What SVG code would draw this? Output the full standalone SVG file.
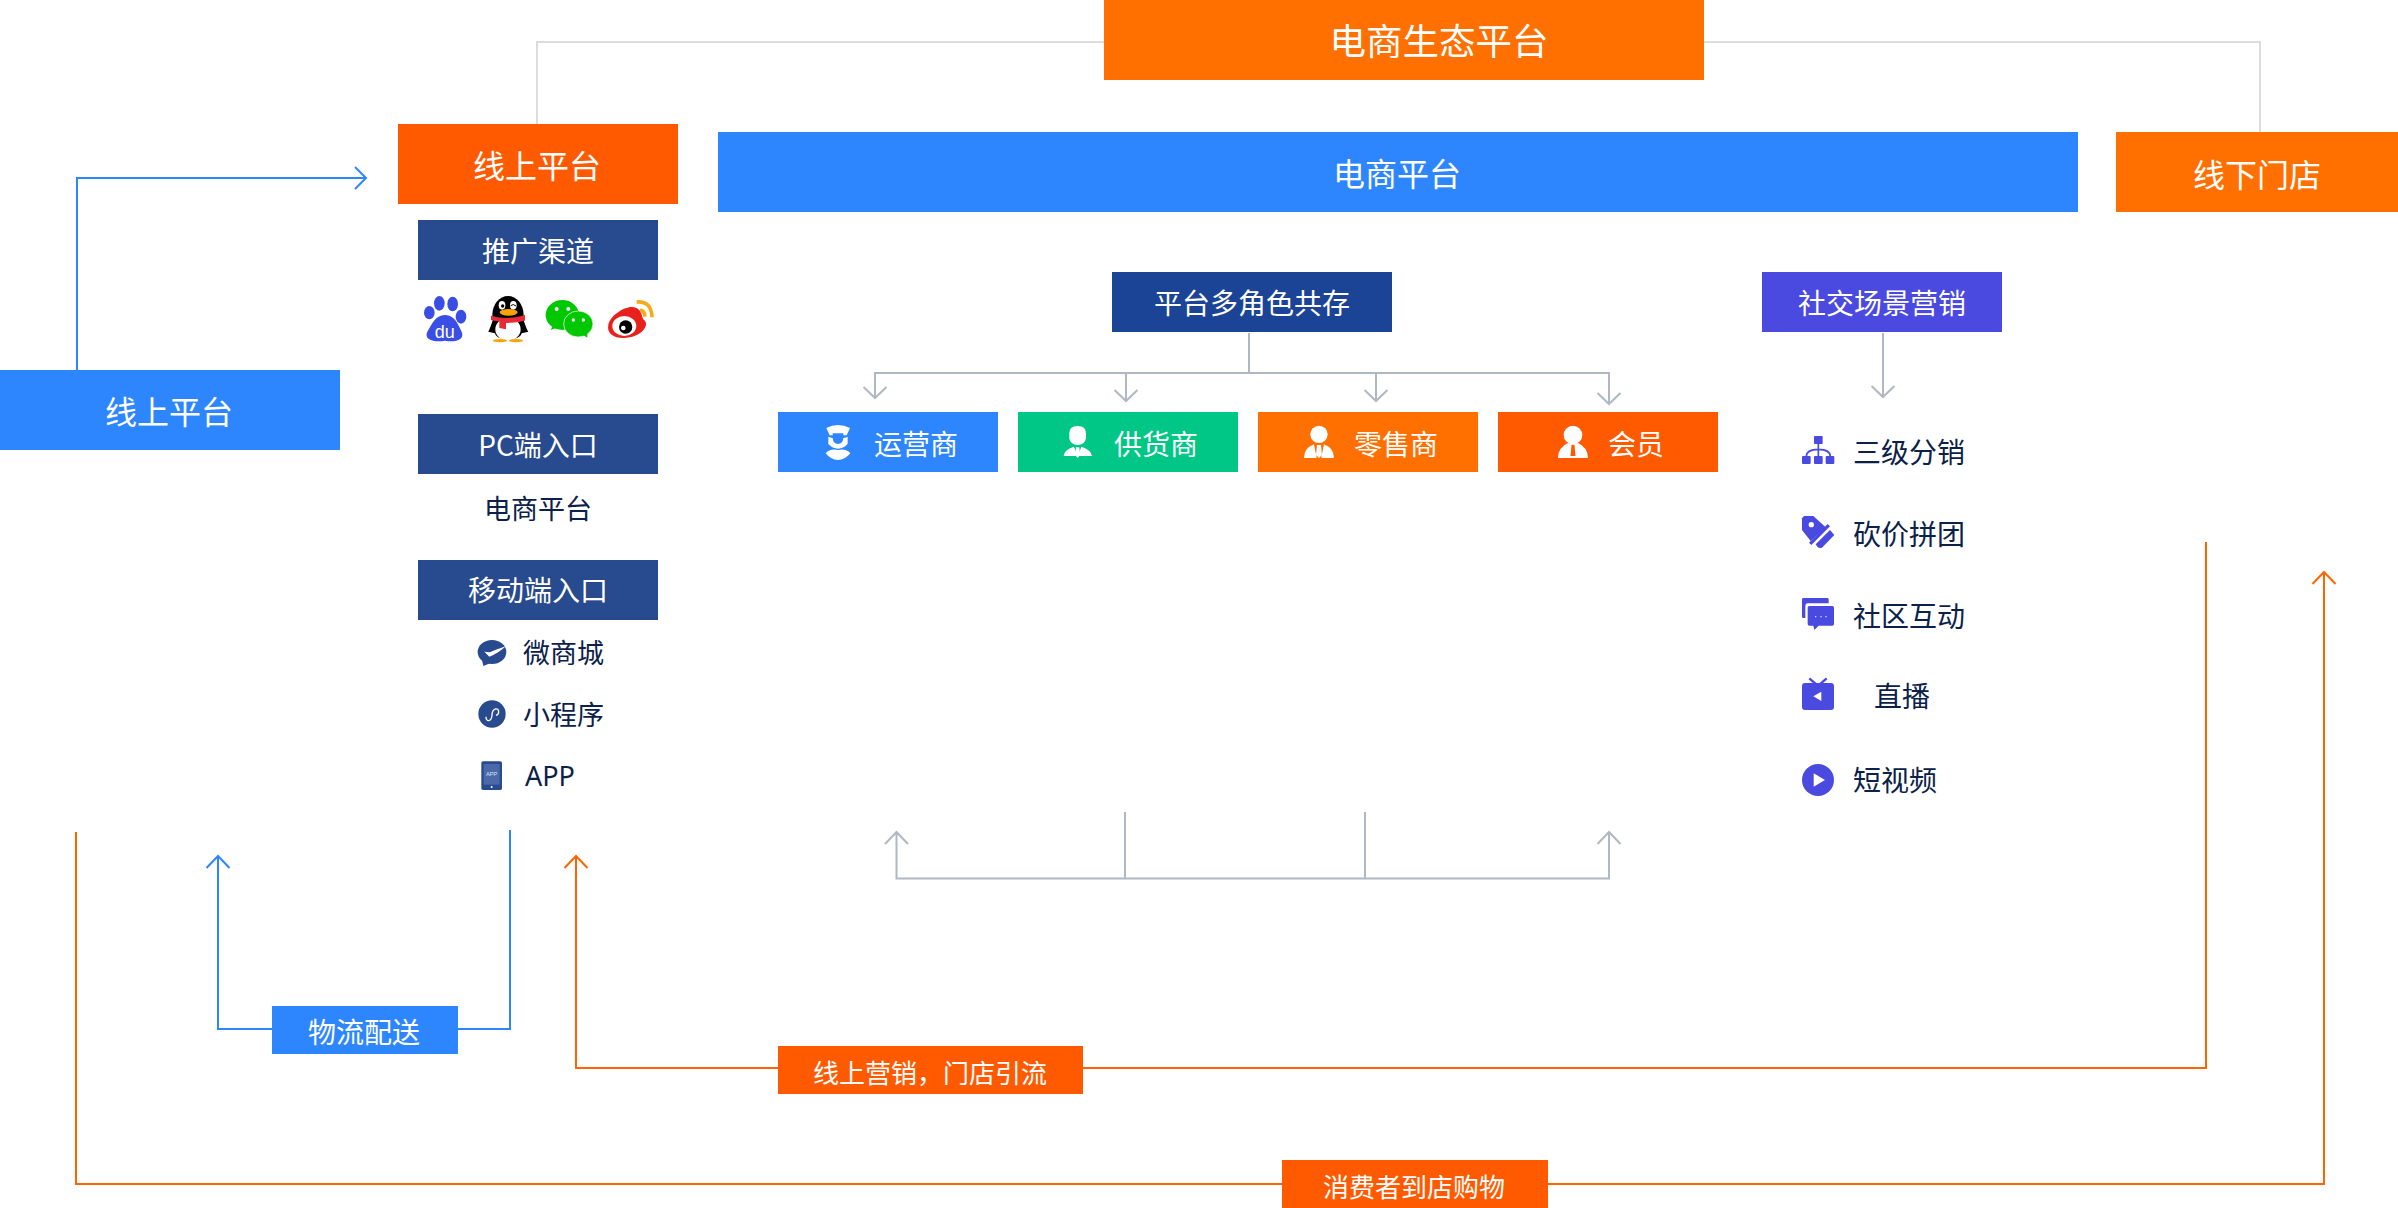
<svg xmlns="http://www.w3.org/2000/svg" width="2398" height="1208" viewBox="0 0 2398 1208">
<defs>
<style>
text{font-family:"Noto Sans CJK SC","Noto Sans",sans-serif;text-anchor:middle;fill:#fff}
.t36{font-size:36.500px}.t32{font-size:32px}.t28{font-size:28px}.t26{font-size:27px}.t25{font-size:26px}
.d{fill:#0b2149}
.l{text-anchor:start}
.c{fill:none;stroke-width:2}
.g{stroke:#b0b8c4}.lg{stroke:#dcdcdc}.b{stroke:#2e86ff}.o{stroke:#ff6400}
.nv{fill:#284a8e}.ind{fill:#4a4ae0}
</style>
</defs>
<rect width="2398" height="1208" fill="#fff"/>
<g id="connectors">
<path class="c lg" d="M537 124V42H1104M1704 42H2260V132"/>
<path class="c b" d="M77 370V178H366M355 167L366 178L355 189"/>
<path class="c b" d="M272 1029H218V856M206.500 868L218 856L229.500 868M458 1029H510V830"/>
<path class="c o" d="M778 1068H576V856M564.500 868L576 856L587.500 868M1083 1068H2206V542"/>
<path class="c o" d="M76 832V1184H1282M1548 1184H2324V572M2312.500 584L2324 572L2335.500 584"/>
<path class="c g" d="M1249 333V373M875 398V373H1609V404M1126 373V401M1376 373V401M863.500 387L875 398L886.500 387M1114.500 390L1126 401L1137.500 390M1364.500 390L1376 401L1387.500 390M1597.500 393L1609 404L1620.500 393"/>
<path class="c g" d="M1883 333V397M1871.500 386L1883 397L1894.500 386"/>
<path class="c g" d="M896.500 832V878.500H1609V832M885 844L896.500 832L908 844M1597.500 844L1609 832L1620.500 844M1125 812V878M1365 812V878"/>
</g>
<g id="n-ecosystem"><rect x="1104" y="0" width="600" height="80" fill="#ff7000"/><text class="t36" x="1439" y="55">电商生态平台</text></g>
<g id="n-online"><rect x="398" y="124" width="280" height="80" fill="#ff5a00"/><text class="t32" x="537" y="178">线上平台</text></g>
<g id="n-platform"><rect x="718" y="132" width="1360" height="80" fill="#2e86ff"/><text class="t32" x="1397" y="186">电商平台</text></g>
<g id="n-store"><rect x="2116" y="132" width="282" height="80" fill="#ff7000"/><text class="t32" x="2257" y="187">线下门店</text></g>
<g id="n-online-left"><rect x="0" y="370" width="340" height="80" fill="#2e86ff"/><text class="t32" x="169" y="424">线上平台</text></g>
<g id="n-promo"><rect x="418" y="220" width="240" height="60" fill="#284a8e"/><text class="t28" x="538" y="262">推广渠道</text></g>
<g id="promo-icons" transform="translate(380 200) scale(.3333)">
<g fill="#3a4ee6"><ellipse cx="148" cy="338" rx="16" ry="20"/><ellipse cx="178" cy="310" rx="16" ry="22"/><ellipse cx="218" cy="312" rx="16" ry="22"/><ellipse cx="243" cy="350" rx="16" ry="21"/><path d="M195 345C225 345 235 375 245 395C255 420 225 428 195 422C165 428 130 420 142 395C155 375 165 345 195 345Z"/></g>
<text x="194" y="413" style="font-family:'Liberation Sans',sans-serif;font-size:54px">du</text>
<ellipse cx="384" cy="345" rx="47" ry="57" fill="#000"/><path d="M384 300C420 300 430 370 445 395L425 400C420 425 350 425 345 400L325 395C340 370 348 300 384 300Z"/>
<ellipse cx="384" cy="388" rx="38" ry="34" fill="#fff"/>
<ellipse cx="366" cy="316" rx="10" ry="13" fill="#fff"/><ellipse cx="400" cy="316" rx="10" ry="13" fill="#fff"/><circle cx="368" cy="318" r="5"/><path d="M392 317Q400 310 408 318" fill="none" stroke="#000" stroke-width="3"/>
<ellipse cx="386" cy="337" rx="27" ry="10" fill="#f8a300"/>
<path d="M333 347Q384 362 435 345V362Q410 368 378 369V388L358 384V364Q340 362 333 360Z" fill="#e9283a"/>
<ellipse cx="360" cy="422" rx="21" ry="5" fill="#f8a300"/><ellipse cx="408" cy="422" rx="21" ry="5" fill="#f8a300"/>
<ellipse cx="547" cy="345" rx="50" ry="45" fill="#00c800"/><path d="M520 375L512 390L535 382Z" fill="#00c800"/>
<ellipse cx="595" cy="372" rx="44" ry="39" fill="#00c800" stroke="#fff" stroke-width="2"/><path d="M610 405L622 413L622 398Z" fill="#00c800"/>
<circle cx="530" cy="327" r="6" fill="#fff"/><circle cx="565" cy="327" r="6" fill="#fff"/><circle cx="580" cy="360" r="5" fill="#fff"/><circle cx="610" cy="360" r="5" fill="#fff"/>
<path d="M685 375C690 345 740 315 762 322C785 325 785 350 790 358C815 375 780 415 730 414C700 414 680 400 685 375Z" fill="#e8211c"/>
<ellipse cx="733" cy="378" rx="36" ry="30" fill="#fff"/><circle cx="737" cy="381" r="20"/><circle cx="730" cy="384" r="7" fill="#fff"/>
<path d="M770 306Q815 303 816 352M780 331Q794 331 795 350" fill="none" stroke="#f8a81a" stroke-width="11"/>
</g>
<g id="n-pc"><rect x="418" y="414" width="240" height="60" fill="#284a8e"/><text class="t28" x="538" y="456">PC端入口</text></g>
<g id="n-pc-platform"><text class="t26 d" x="538" y="519">电商平台</text></g>
<g id="n-mobile"><rect x="418" y="560" width="240" height="60" fill="#284a8e"/><text class="t28" x="538" y="601">移动端入口</text></g>
<g id="n-weishop"><g transform="translate(400 540) scale(.3333)"><ellipse cx="276" cy="336" rx="43" ry="36" class="nv"/><path d="M246 360L250 378L270 370Z" class="nv"/><path d="M253 335L270 337Q285 330 318 318Q295 340 268 350Z" fill="#fff"/></g><text class="t26 d l" x="523" y="663">微商城</text></g>
<g id="n-mini"><g transform="translate(400 540) scale(.3333)"><circle cx="276" cy="522" r="41" class="nv"/><path d="M258 530C258 548 275 545 276 525C277 505 296 500 296 516C296 522 292 525 288 526" fill="none" stroke="#fff" stroke-width="4"/></g><text class="t26 d l" x="523" y="725">小程序</text></g>
<g id="n-app"><g transform="translate(400 540) scale(.3333)"><rect x="244" y="664" width="62" height="86" rx="5" class="nv"/><rect x="251" y="672" width="48" height="62" fill="#4a69a8"/><circle cx="275" cy="741" r="3" fill="#fff"/><text x="275" y="707" style="font-family:'Liberation Sans',sans-serif;font-size:17px;fill:#dbe3f2">APP</text></g><text class="t26 d l" x="525" y="786" style="font-family:'Noto Sans',sans-serif">APP</text></g>
<g id="n-roles"><rect x="1112" y="272" width="280" height="60" fill="#1b4496"/><text class="t28" x="1252" y="314">平台多角色共存</text></g>
<g id="n-social"><rect x="1762" y="272" width="240" height="60" class="ind"/><text class="t28" x="1882" y="314">社交场景营销</text></g>
<g id="n-operator"><rect x="778" y="412" width="220" height="60" fill="#2e86ff"/><g transform="translate(760 260) scale(.3333)" fill="#fff"><path d="M199 504Q233 486 270 504L260 526H209Z"/><path d="M205 530Q222 538 234 530Q248 538 263 530V552Q250 566 234 566Q218 566 205 552Z"/><path d="M197 580Q210 565 234 570Q258 565 271 580Q255 600 234 600Q213 600 197 580Z"/><path d="M218 520H250V535Q248 552 234 552Q220 552 218 535Z" fill="#2e86ff"/></g><text class="t28" x="916" y="455">运营商</text></g>
<g id="n-supplier"><rect x="1018" y="412" width="220" height="60" fill="#00c785"/><g transform="translate(760 260) scale(.3333)" fill="#fff"><path d="M928 520Q928 498 953 498Q978 498 978 520V535Q975 555 953 555Q931 555 928 535Z"/><path d="M911 588Q912 570 942 560L953 590L964 560Q994 570 996 588Z"/><path d="M948 562H958L961 585L953 594L945 585Z"/></g><text class="t28" x="1156" y="455">供货商</text></g>
<g id="n-retailer"><rect x="1258" y="412" width="220" height="60" fill="#ff7000"/><g transform="translate(1240 260) scale(.3333)" fill="#fff"><circle cx="237" cy="523" r="26"/><path d="M192 594Q192 565 222 553L230 594ZM282 594Q282 565 252 553L244 594Z"/><path d="M231 555H243L246 585L237 594L228 585Z"/></g><text class="t28" x="1396" y="455">零售商</text></g>
<g id="n-member"><rect x="1498" y="412" width="220" height="60" fill="#ff5a00"/><g transform="translate(1240 260) scale(.3333)" fill="#fff"><circle cx="999" cy="525" r="28"/><path d="M954 594Q954 562 985 548L999 580L1013 548Q1044 562 1044 594Z"/><path d="M985 548Q999 558 1013 548V590H985Z"/></g><path d="M1571.500 445H1574.500L1575.500 456H1570.500Z" fill="#ff5a00"/><text class="t28" x="1636" y="455">会员</text></g>
<g id="n-dist"><g transform="translate(1770 410) scale(.3333)" class="ind"><rect x="132" y="78" width="26" height="24" rx="3"/><rect x="96" y="138" width="26" height="24" rx="3"/><rect x="132" y="138" width="26" height="24" rx="3"/><rect x="167" y="138" width="26" height="24" rx="3"/><path d="M109 140Q109 118 145 118Q181 118 181 140M145 100V140" fill="none" stroke="#4a4ae0" stroke-width="5"/></g><text class="t28 d l" x="1853" y="463">三级分销</text></g>
<g id="n-group"><g transform="translate(1770 410) scale(.3333)" class="ind"><path d="M102 318H130L167 352L122 393L96 360V325Z"/><circle cx="124" cy="344" r="8" fill="#fff"/><path d="M117 398L173 342L180 349L124 405Z"/><path d="M137 403L180 360L193 375L156 413Q148 416 142 410Z"/></g><text class="t28 d l" x="1853" y="545">砍价拼团</text></g>
<g id="n-community"><g transform="translate(1770 410) scale(.3333)" class="ind"><path d="M100 564H172Q176 564 176 568V580H112Q106 580 106 588V624H100Q96 624 96 620V568Q96 564 100 564Z"/><path d="M118 588H187Q192 588 192 593V642Q192 647 187 647H146L133 660L130 647H118Q113 647 113 642V593Q113 588 118 588Z"/><g fill="#fff"><circle cx="137" cy="620" r="2"/><circle cx="153" cy="620" r="2"/><circle cx="168" cy="620" r="2"/></g></g><text class="t28 d l" x="1853" y="627">社区互动</text></g>
<g id="n-live"><g transform="translate(1770 410) scale(.3333)" class="ind"><rect x="96" y="819" width="96" height="81" rx="9"/><path d="M118 805L137 822M170 805L151 822" stroke="#4a4ae0" stroke-width="7" fill="none"/><path d="M154 845V873L130 859Z" fill="#fff"/></g><text class="t28 d" x="1902" y="707">直播</text></g>
<g id="n-video"><g transform="translate(1770 410) scale(.3333)"><circle cx="144" cy="1110" r="48" class="ind"/><path d="M131 1090L165 1110L131 1130Z" fill="#fff"/></g><text class="t28 d l" x="1853" y="791">短视频</text></g>
<g id="n-logistics"><rect x="272" y="1006" width="186" height="48" fill="#2e86ff"/><text class="t28" x="364" y="1043">物流配送</text></g>
<g id="n-marketing"><rect x="778" y="1046" width="305" height="48" fill="#ff5a00"/><text class="t25" x="930" y="1083">线上营销，门店引流</text></g>
<g id="n-shop"><rect x="1282" y="1160" width="266" height="48" fill="#ff5a00"/><text class="t25" x="1414" y="1197">消费者到店购物</text></g>
</svg>
